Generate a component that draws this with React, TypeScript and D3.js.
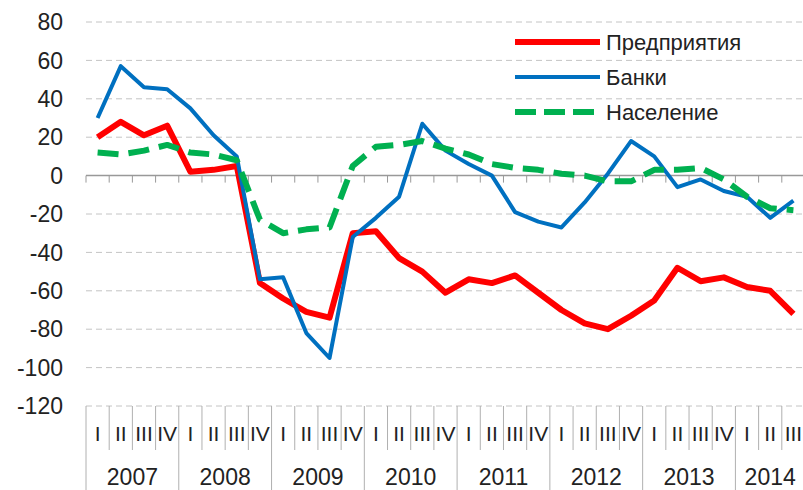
import React, { useEffect, useRef } from 'react';
import * as d3 from 'd3';

// balance of opinions, quarterly 2007 Q1 - 2014 Q3
const years = ['2007', '2008', '2009', '2010', '2011', '2012', '2013', '2014'];
const quarterNames = ['I', 'II', 'III', 'IV'];
const yTicks = [80, 60, 40, 20, 0, -20, -40, -60, -80, -100, -120];

const enterprises = [20, 28, 21, 26, 2, 3, 5, -56, -64, -71, -74, -30, -29, -43, -50, -61, -54, -56, -52, -61, -70, -77, -80, -73, -65, -48, -55, -53, -58, -60, -72];
const banks = [30, 57, 46, 45, 35, 21, 10, -54, -53, -82, -95, -32, -22, -11, 27, 13, 6, 0, -19, -24, -27, -14, 1, 18, 10, -6, -2, -8, -11, -22, -13];
const households = [12, 11, 13, 16, 12, 11, 8, -23, -30, -28, -27, 5, 15, 16, 18, 14, 11, 6, 4, 3, 1, 0, -3, -3, 3, 3, 4, -2, -11, -17, -18];

const seriesList = [
  { name: 'Предприятия', values: enterprises, color: '#ff0000', width: 6, dash: null },
  { name: 'Банки', values: banks, color: '#0070c0', width: 4, dash: null },
  { name: 'Население', values: households, color: '#00b050', width: 6, dash: '21,10' },
];

const font = '"Liberation Sans", Arial, sans-serif';

export default function App() {
  const ref = useRef<SVGSVGElement>(null);

  useEffect(() => {
    document.body.style.margin = '0';
    const svg = d3.select(ref.current);
    svg.selectAll('*').remove();

    const periods: { year: string; q: string; key: string }[] = [];
    years.forEach((y) =>
      quarterNames.forEach((q) => {
        if (periods.length < enterprises.length) periods.push({ year: y, q, key: y + q });
      })
    );

    const left = 86, right = 805, top = 22, bottom = 406;
    const x = d3.scaleBand().domain(periods.map((p) => p.key)).range([left, right]).padding(0);
    const y = d3.scaleLinear().domain([-120, 80]).range([bottom, top]);
    const bw = x.bandwidth();

    // grid
    svg.append('g')
      .selectAll('line')
      .data(yTicks.filter((t) => t !== 0))
      .enter()
      .append('line')
      .attr('x1', left).attr('x2', 803)
      .attr('y1', (d) => y(d)).attr('y2', (d) => y(d))
      .attr('stroke', '#c4c4c4')
      .attr('stroke-width', 1)
      .attr('stroke-dasharray', '6,4');

    // y labels
    svg.append('g')
      .selectAll('text')
      .data(yTicks)
      .enter()
      .append('text')
      .attr('x', 63)
      .attr('y', (d) => y(d))
      .attr('dy', '0.36em')
      .attr('text-anchor', 'end')
      .attr('font-family', font)
      .attr('font-size', 23)
      .attr('fill', '#222')
      .text((d) => d);

    // zero axis with ticks
    const zero = y(0);
    svg.append('line')
      .attr('x1', left).attr('x2', 803)
      .attr('y1', zero).attr('y2', zero)
      .attr('stroke', '#999').attr('stroke-width', 1.5);
    svg.append('g')
      .selectAll('line')
      .data(periods)
      .enter()
      .append('line')
      .attr('x1', (d) => x(d.key)!).attr('x2', (d) => x(d.key)!)
      .attr('y1', zero).attr('y2', zero + 7)
      .attr('stroke', '#999').attr('stroke-width', 1);

    // category box below the plot
    const cat = svg.append('g');
    cat.selectAll('line')
      .data(periods)
      .enter()
      .append('line')
      .attr('x1', (d) => x(d.key)!).attr('x2', (d) => x(d.key)!)
      .attr('y1', bottom)
      .attr('y2', (d) => (d.q === 'I' ? 490 : 450))
      .attr('stroke', '#b0b0b0').attr('stroke-width', 1);
    cat.selectAll('text.q')
      .data(periods)
      .enter()
      .append('text')
      .attr('class', 'q')
      .attr('x', (d) => x(d.key)! + bw / 2)
      .attr('y', 441)
      .attr('text-anchor', 'middle')
      .attr('font-family', font)
      .attr('font-size', 21)
      .attr('fill', '#222')
      .text((d) => d.q);
    cat.selectAll('text.y')
      .data(years)
      .enter()
      .append('text')
      .attr('class', 'y')
      .attr('x', (yr) => {
        const ks = periods.filter((p) => p.year === yr);
        return (x(ks[0].key)! + x(ks[ks.length - 1].key)! + bw) / 2;
      })
      .attr('y', 485)
      .attr('text-anchor', 'middle')
      .attr('font-family', font)
      .attr('font-size', 23)
      .attr('fill', '#222')
      .text((yr) => yr);

    // series: red below, green dashes on top
    seriesList.forEach((s) => {
      const line = d3.line<number>()
        .x((_, i) => x(periods[i].key)! + bw / 2)
        .y((d) => y(d));
      svg.append('path')
        .datum(s.values)
        .attr('d', line)
        .attr('fill', 'none')
        .attr('stroke', s.color)
        .attr('stroke-width', s.width)
        .attr('stroke-linejoin', 'round')
        .attr('stroke-dasharray', s.dash);
    });

    // legend
    const lg = svg.append('g');
    seriesList.forEach((s, i) => {
      const ly = 42 + i * 35;
      lg.append('line')
        .attr('x1', 515).attr('x2', 600)
        .attr('y1', ly).attr('y2', ly)
        .attr('stroke', s.color)
        .attr('stroke-width', s.width)
        .attr('stroke-dasharray', s.dash ? '21,8' : null);
      lg.append('text')
        .attr('x', 606)
        .attr('y', ly)
        .attr('dy', '0.36em')
        .attr('font-family', font)
        .attr('font-size', 22)
        .attr('fill', '#222')
        .text(s.name);
    });
  }, []);

  return <svg ref={ref} width={803} height={490} style={{ display: 'block', background: '#fff' }} />;
}
